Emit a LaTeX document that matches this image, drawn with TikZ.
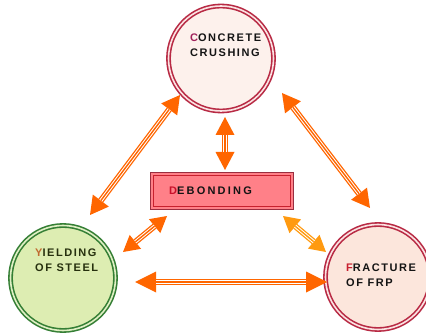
\documentclass[tikz,border=0pt]{standalone}
\usepackage{fontspec}
\newfontfamily\lblfont[LetterSpace=14]{Liberation Sans}
\newfontfamily\lblwide[LetterSpace=20]{Liberation Sans}
\usetikzlibrary{arrows.meta,calc}
\definecolor{arrowor}{HTML}{FF6600}
\definecolor{arrowlt}{HTML}{FF9A10}
\definecolor{ringred}{HTML}{B82A44}
\definecolor{ringgap}{HTML}{FBE2E2}
\definecolor{fillpale}{HTML}{FDF1EC}
\definecolor{fillfrp}{HTML}{FCE6DC}
\definecolor{ringgreen}{HTML}{357F35}
\definecolor{gapgreen}{HTML}{E0F0C4}
\definecolor{fillgreen}{HTML}{DDEDB2}
\definecolor{boxdark}{HTML}{9A2E40}
\definecolor{boxfill}{HTML}{FF8088}
\definecolor{boxinner}{HTML}{C8202E}
\definecolor{txtdark}{HTML}{141414}
\definecolor{txtgreen}{HTML}{26300E}
\definecolor{capC}{HTML}{A0205A}
\definecolor{capD}{HTML}{C8102A}
\definecolor{capY}{HTML}{C06A30}
\definecolor{capF}{HTML}{C82030}
\newcommand\dArrow[5]{%
  \draw[#1, line width=6pt, {Triangle[length=#2pt,width=#3pt,line width=0pt]}-{Triangle[length=#2pt,width=#3pt,line width=0pt]}] (#4) -- (#5);
  \draw[white, line width=3.4pt, shorten <=#2pt, shorten >=#2pt] (#4) -- (#5);
  \draw[#1, line width=1.4pt, shorten <=#2pt, shorten >=#2pt] (#4) -- (#5);
}
\begin{document}
\begin{tikzpicture}[x=1pt,y=-1pt,
  ringnode/.style={circle, draw=ringred, line width=1.6pt, double=ringgap, double distance=1.6pt, minimum size=105pt, inner sep=0pt},
  lbl/.style={font=\lblfont\bfseries\fontsize{11}{15}\selectfont, align=left, inner sep=0pt, anchor=north west}]
\useasboundingbox (0,0) rectangle (426,334);
\fill[white] (0,0) rectangle (426,334);
% nodes
\node[ringnode, fill=fillpale] (cc) at (221,58.5) {};
\node[ringnode, fill=fillgreen, draw=ringgreen, double=gapgreen] (ys) at (63,278) {};
\node[ringnode, fill=fillfrp] (fr) at (378,277) {};
\node[draw=boxdark, line width=1.8pt, fill=boxfill, minimum width=143pt, minimum height=37pt, inner sep=0pt] (db) at (222,191) {};
\draw[boxinner, line width=1pt] ($(db.north west)+(3.5,3.5)$) rectangle ($(db.south east)+(-3.5,-3.5)$);
% labels
\node[lbl, text=txtdark] (tcc) at (190,34) {\textcolor{capC}{C}ONCRETE\\CRUSHING};
\node[lbl, font=\lblwide\bfseries\fontsize{11}{15}\selectfont, text=txtdark, anchor=west] (tdb) at (169,191) {\textcolor{capD}{D}EBONDING};
\node[lbl, text=txtgreen] (tys) at (35,249) {\textcolor{capY}{Y}IELDING\\OF STEEL};
\node[lbl, text=txtdark] (tfr) at (346,264) {\textcolor{capF}{F}RACTURE\\OF FRP};
% arrow end points
\coordinate (a1s) at (180,95);  \coordinate (a1e) at (90,215);
\coordinate (a2s) at (282,93);  \coordinate (a2e) at (370,208);
\coordinate (a3s) at (135,282); \coordinate (a3e) at (327,282);
\coordinate (a4s) at (225,117); \coordinate (a4e) at (225,170);
\coordinate (a5s) at (167,216); \coordinate (a5e) at (123,252);
\coordinate (a6s) at (283,216); \coordinate (a6e) at (326,252);
\dArrow{arrowor}{18}{20}{a1s}{a1e}
\dArrow{arrowor}{18}{20}{a2s}{a2e}
\dArrow{arrowor}{21}{21}{a3s}{a3e}
\dArrow{arrowor}{18}{19}{a4s}{a4e}
\dArrow{arrowor}{16}{18}{a5s}{a5e}
\dArrow{arrowlt}{16}{18}{a6s}{a6e}
\end{tikzpicture}
\end{document}
